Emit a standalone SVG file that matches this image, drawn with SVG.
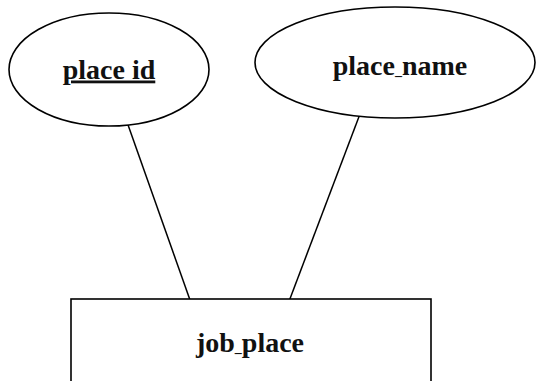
<svg xmlns="http://www.w3.org/2000/svg" width="537" height="381" viewBox="0 0 537 381">
  <style>
    .shape { fill: #ffffff; stroke: #000000; stroke-width: 1.6; }
    .link { stroke: #000000; stroke-width: 1.5; fill: none; }
    .label { font-family: "Liberation Serif", "Times New Roman", serif; font-weight: bold; font-size: 28px; fill: #111111; text-anchor: middle; }
    .us { font-size: 14px; }
  </style>
  <rect width="537" height="381" fill="#ffffff"/>

  <g id="connectors">
    <line class="link" x1="127" y1="122" x2="190" y2="300"/>
    <line class="link" x1="360" y1="114" x2="288" y2="304"/>
  </g>

  <g id="place-id">
    <ellipse class="shape" cx="109" cy="69.5" rx="100" ry="56.5"/>
    <text class="label" x="109" y="78.5" text-decoration="underline">place id</text>
  </g>

  <g id="place-name">
    <ellipse class="shape" cx="395" cy="62.5" rx="140" ry="55.5"/>
    <text class="label" x="400" y="75">place<tspan class="us">_</tspan>name</text>
  </g>

  <g id="job-place">
    <rect class="shape" x="71" y="299" width="360" height="100"/>
    <text class="label" x="250" y="352">job<tspan class="us">_</tspan>place</text>
  </g>
</svg>
